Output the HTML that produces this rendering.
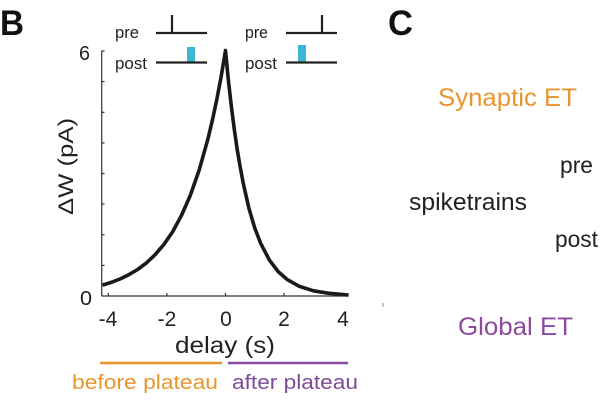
<!DOCTYPE html>
<html><head><meta charset="utf-8"><style>
html,body{margin:0;padding:0;background:#fff;}
svg{display:block;}
text{font-family:"Liberation Sans",Arial,sans-serif;}
</style></head><body>
<svg width="600" height="400" viewBox="0 0 600 400" xmlns="http://www.w3.org/2000/svg">
<rect width="600" height="400" fill="#fff"/>
<!-- panel labels -->
<text x="0" y="35" font-size="35" font-weight="bold" fill="#111" textLength="24" lengthAdjust="spacingAndGlyphs">B</text>
<text x="388" y="35" font-size="35" font-weight="bold" fill="#111" textLength="25" lengthAdjust="spacingAndGlyphs">C</text>

<!-- insets -->
<g fill="#222" font-size="17">
<text x="115" y="38" textLength="24" lengthAdjust="spacingAndGlyphs">pre</text>
<text x="115" y="69" textLength="32" lengthAdjust="spacingAndGlyphs">post</text>
<text x="245" y="38" textLength="23" lengthAdjust="spacingAndGlyphs">pre</text>
<text x="245" y="69" textLength="32" lengthAdjust="spacingAndGlyphs">post</text>
</g>
<rect x="187" y="47" width="8" height="15" fill="#3ab8d4"/>
<rect x="298" y="45" width="8" height="17" fill="#3ab8d4"/>
<g stroke="#222" stroke-width="2.2" fill="none">
<line x1="156" y1="33" x2="207" y2="33"/>
<line x1="172" y1="15" x2="172" y2="33"/>
<line x1="156" y1="62.5" x2="207" y2="62.5"/>
<line x1="286" y1="33" x2="337" y2="33"/>
<line x1="322" y1="15" x2="322" y2="33"/>
<line x1="286" y1="62.5" x2="337" y2="62.5"/>
</g>

<!-- axes -->
<g stroke="#333" stroke-width="1.2" fill="none">
<line x1="101.7" y1="50.5" x2="101.7" y2="296"/>
<line x1="101.7" y1="296" x2="348.5" y2="296"/>
<line x1="101.7" y1="51" x2="104.5" y2="51"/>
<line x1="101.7" y1="81.6" x2="104.5" y2="81.6"/>
<line x1="101.7" y1="112.3" x2="104.5" y2="112.3"/>
<line x1="101.7" y1="142.9" x2="104.5" y2="142.9"/>
<line x1="101.7" y1="173.5" x2="104.5" y2="173.5"/>
<line x1="101.7" y1="204.1" x2="104.5" y2="204.1"/>
<line x1="101.7" y1="234.8" x2="104.5" y2="234.8"/>
<line x1="101.7" y1="265.4" x2="104.5" y2="265.4"/>
<line x1="108.3" y1="296" x2="108.3" y2="293"/>
<line x1="166.9" y1="296" x2="166.9" y2="293"/>
<line x1="225.5" y1="296" x2="225.5" y2="293"/>
<line x1="284.1" y1="296" x2="284.1" y2="293"/>
<line x1="342.7" y1="296" x2="342.7" y2="293"/>
</g>
<g fill="#222">
<text x="79" y="60" font-size="20" textLength="11" lengthAdjust="spacingAndGlyphs">6</text>
<text x="80" y="305" font-size="20" textLength="12" lengthAdjust="spacingAndGlyphs">0</text>
<g text-anchor="middle" font-size="21">
<text x="108" y="326">-4</text>
<text x="167" y="326">-2</text>
<text x="226" y="326">0</text>
<text x="284" y="326">2</text>
<text x="343" y="326">4</text>
</g>
</g>
<text x="225" y="353" font-size="23" fill="#222" text-anchor="middle" textLength="100" lengthAdjust="spacingAndGlyphs">delay (s)</text>
<text transform="translate(73,166.5) rotate(-90)" font-size="21" fill="#222" text-anchor="middle" textLength="97" lengthAdjust="spacingAndGlyphs">ΔW (pA)</text>

<!-- curve -->
<path d="M102.4,285.1 L111.2,282.4 L120.0,279.0 L128.8,274.7 L137.6,269.5 L146.4,262.9 L155.2,254.6 L164.0,244.3 L172.8,231.5 L181.5,215.4 L190.3,195.4 L199.1,170.3 L207.9,139.0 L212.3,120.6 L216.7,100.0 L221.1,76.9 L225.5,50.5 L228.4,80.7 L231.4,106.6 L234.3,129.4 L237.2,149.4 L240.2,167.0 L243.1,182.6 L248.9,208.2 L254.8,228.1 L260.7,243.4 L269.5,260.2 L278.2,271.6 L287.0,279.4 L298.8,286.1 L313.4,290.8 L328.1,293.2 L348.6,295.0" fill="none" stroke="#1a1a1a" stroke-width="3.6" stroke-linejoin="round" stroke-linecap="butt"/>

<!-- plateau bars -->
<line x1="100" y1="363" x2="222" y2="363" stroke="#e8952e" stroke-width="2.5"/>
<line x1="228" y1="363" x2="348" y2="363" stroke="#8d4ba0" stroke-width="2.5"/>
<text x="72" y="389" font-size="20" fill="#e8952e" textLength="146" lengthAdjust="spacingAndGlyphs">before plateau</text>
<text x="232" y="389" font-size="20" fill="#7e4a98" textLength="126" lengthAdjust="spacingAndGlyphs">after plateau</text>

<!-- panel C -->
<text x="438" y="106" font-size="25" fill="#e8952e" textLength="139" lengthAdjust="spacingAndGlyphs">Synaptic ET</text>
<text x="560" y="173" font-size="23" fill="#222" textLength="33" lengthAdjust="spacingAndGlyphs">pre</text>
<text x="409" y="210" font-size="24" fill="#222" textLength="118" lengthAdjust="spacingAndGlyphs">spiketrains</text>
<text x="555" y="247" font-size="23" fill="#222" textLength="43" lengthAdjust="spacingAndGlyphs">post</text>
<text x="458" y="335" font-size="25" fill="#8d4ba0" textLength="115" lengthAdjust="spacingAndGlyphs">Global ET</text>
<line x1="383" y1="303" x2="383" y2="307" stroke="#888" stroke-width="1"/>
</svg>
</body></html>
